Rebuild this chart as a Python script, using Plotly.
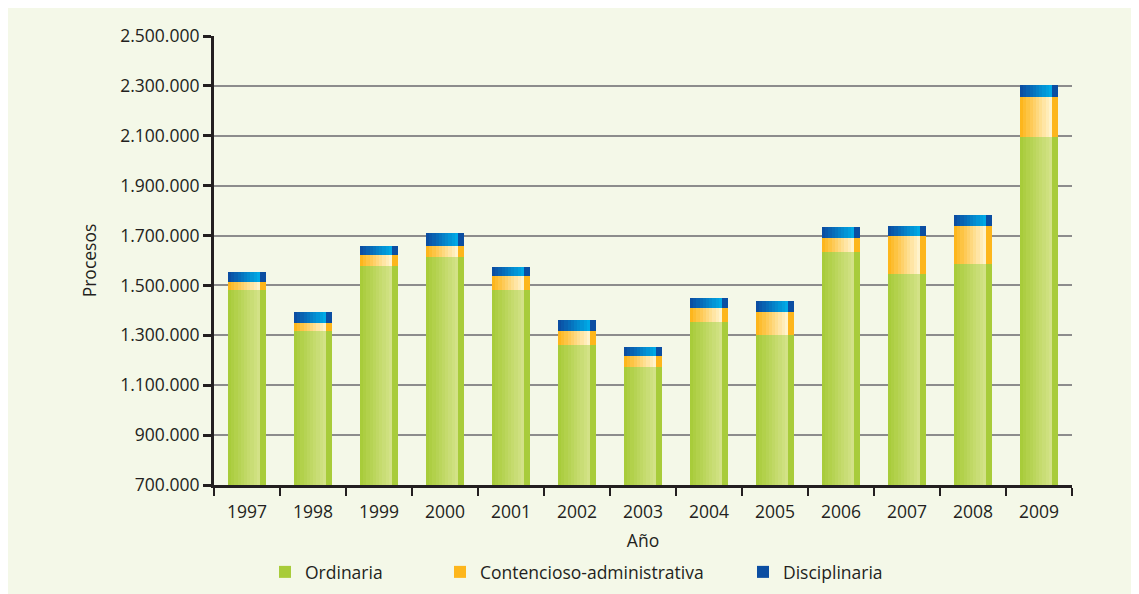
import plotly.graph_objects as go

years = ["1997", "1998", "1999", "2000", "2001", "2002", "2003",
         "2004", "2005", "2006", "2007", "2008", "2009"]
ordinaria = [1481000, 1317000, 1579000, 1614000, 1482000, 1261000, 1173000,
             1353000, 1301000, 1634000, 1547000, 1587000, 2096000]
contencioso = [33000, 32000, 43000, 45000, 56000, 56000, 44000,
               56000, 92000, 57000, 152000, 152000, 160000]
disciplinaria = [40000, 45000, 37000, 51000, 36000, 44000, 36000,
                 41000, 44000, 44000, 40000, 43000, 48000]

series = [
    ("Ordinaria", ordinaria, "#A8CC3A", "#D3E287"),
    ("Contencioso-administrativa", contencioso, "#FDB61C", "#FFF3CC"),
    ("Disciplinaria", disciplinaria, "#0B4EA2", "#00A9E6"),
]


def hex2rgb(h):
    h = h.lstrip("#")
    return tuple(int(h[i:i + 2], 16) for i in (0, 2, 4))


def lerp(c1, c2, t):
    a, b = hex2rgb(c1), hex2rgb(c2)
    return "rgb(%d,%d,%d)" % tuple(round(a[i] + (b[i] - a[i]) * t) for i in range(3))


fig = go.Figure()

N = 10
front_start = -0.288
front_w = 0.485
side_w = 0.091
strip_w = front_w / N

legend_ids = ["legend", "legend2", "legend3"]
bottoms = [0] * len(years)
for k, (name, vals, c_left, c_right) in enumerate(series):
    for i in range(N):
        t = i / (N - 1)
        fig.add_trace(go.Bar(
            x=years, y=vals, base=bottoms,
            width=strip_w * 1.08, offset=front_start + i * strip_w,
            marker=dict(color=lerp(c_left, c_right, t), line=dict(width=0)),
            showlegend=False, hoverinfo="skip",
        ))
    fig.add_trace(go.Bar(
        x=years, y=vals, base=bottoms, name=name,
        width=side_w, offset=front_start + front_w,
        marker=dict(color=c_left, line=dict(width=0)),
        showlegend=True, legend=legend_ids[k],
    ))
    bottoms = [b + v for b, v in zip(bottoms, vals)]

cream = "#F4F8E8"
W, H = 1131, 586
L, R, T, B = 206, 67, 28, 109
pw, ph = W - L - R, H - T - B

font = "Open Sans, Noto Sans, sans-serif"
fs = 17.5
leg_y = (H - B - 564) / ph
leg_common = dict(orientation="h", xanchor="left", y=leg_y, yanchor="middle",
                  bgcolor="rgba(0,0,0,0)", font=dict(size=fs))

fig.update_layout(
    width=W, height=H,
    margin=dict(l=L, r=R, t=T, b=B, autoexpand=False),
    paper_bgcolor=cream, plot_bgcolor=cream,
    barmode="overlay",
    separators=",.",
    font=dict(family=font, size=fs, color="#231F20"),
    xaxis=dict(
        type="category", showline=True, linecolor="#231F20", linewidth=3,
        ticks="outside", tickson="boundaries", ticklen=8, tickwidth=2,
        tickcolor="#231F20", showgrid=False,
        tickfont=dict(size=fs), ticklabelstandoff=9,
        title=dict(text="Año", font=dict(size=fs), standoff=13),
        range=[-0.5, 12.5],
    ),
    yaxis=dict(
        range=[700000, 2500000], tick0=700000, dtick=200000,
        tickformat=",d", showline=True, linecolor="#231F20", linewidth=3,
        ticks="outside", ticklen=8, tickwidth=3, tickcolor="#231F20",
        showgrid=True, gridcolor="#8C8C8C", gridwidth=2, zeroline=False,
        tickfont=dict(size=fs),
        title=dict(text="Procesos", font=dict(size=fs), standoff=20),
    ),
    legend=dict(x=(257 - L) / pw, **leg_common),
    legend2=dict(x=(432 - L) / pw, **leg_common),
    legend3=dict(x=(735 - L) / pw, **leg_common),
    bargap=0,
)

fig.write_html("out.html")
